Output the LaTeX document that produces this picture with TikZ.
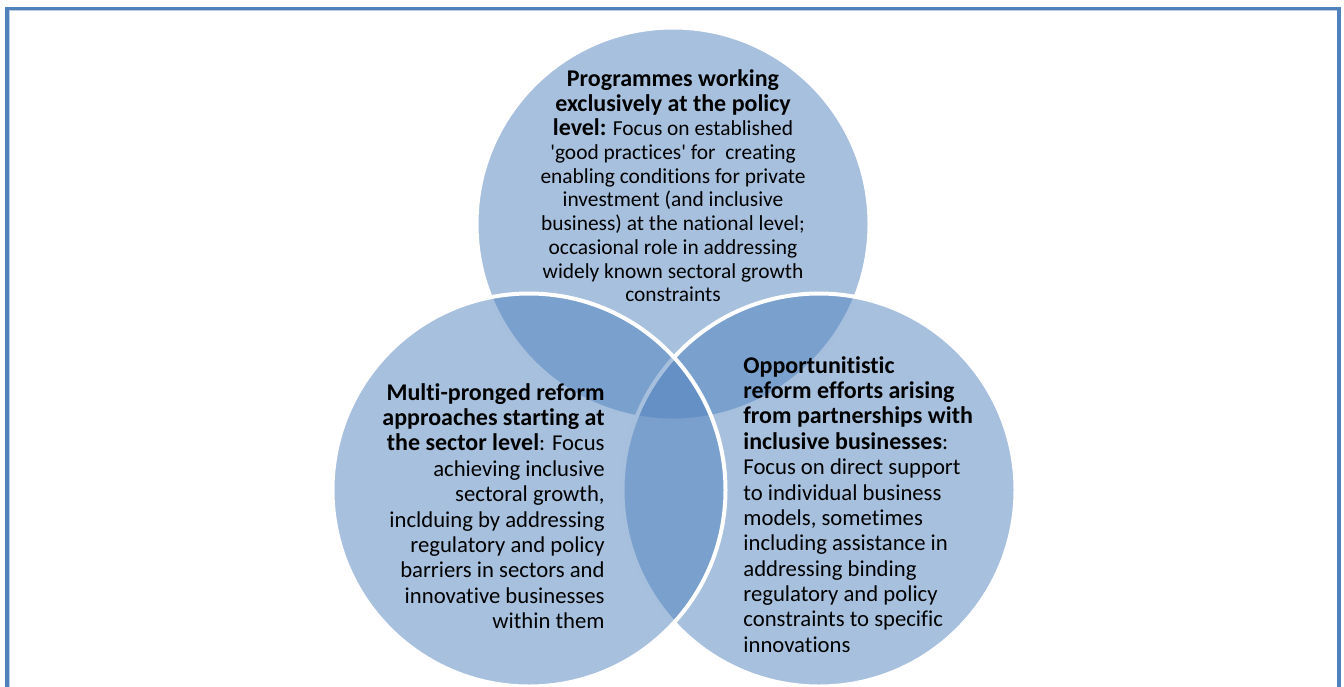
\documentclass[tikz,border=0pt]{standalone}
\usepackage{fontspec}
\setmainfont{Carlito}[Ligatures={NoCommon}]
\definecolor{vblue}{RGB}{79,129,189}
\definecolor{framelight}{RGB}{185,205,229}
\newcommand{\bt}[1]{{\fontsize{12pt}{12.4pt}\selectfont\bfseries #1}}
\newcommand{\sq}{\textquotesingle}
\begin{document}
\begin{tikzpicture}[x=0.5pt,y=-0.5pt,
  venn/.style={circle,minimum size=196.5pt,inner sep=0,fill=vblue,fill opacity=0.5,draw=white,draw opacity=1,line width=2pt},
  txt/.style={inner sep=0,text opacity=1},
  toptxt/.style={txt,font=\fontsize{10.7pt}{11.85pt}\selectfont},
  sidetxt/.style={txt,font=\fontsize{11.35pt}{12.68pt}\selectfont}]
\useasboundingbox (0,0) rectangle (1344,686);
% frame
\draw[vblue,line width=2pt] (7,700) -- (7,9) -- (1339,9) -- (1339,700);
\draw[framelight,line width=0.6pt] (9.8,700) -- (9.8,10.6) -- (1336.5,10.6);
% circles
\node[venn] (top) at (673,224) {};
\node[venn] (right) at (819,490) {};
\node[venn] (left) at (529,490) {};
% texts
\node[toptxt,align=center,anchor=north] (ttop) at (673,69) {%
\bt{Programmes working}\\[0.6pt]
\bt{exclusively at the policy}\\[0.5pt]
\bt{level:} Focus on established\\
\sq good practices\sq{} for\ \ creating\\
enabling conditions for private\\
investment (and inclusive\\
business) at the national level;\\
occasional role in addressing\\
widely known sectoral growth\\
constraints};
\node[sidetxt,align=right,anchor=north east] (tleft) at (605,383) {%
\bt{Multi-pronged reform}\\
\bt{approaches starting at}\\
\bt{the sector level}: Focus\\
achieving inclusive\\
sectoral growth,\\
inclduing by addressing\\
regulatory and policy\\
barriers in sectors and\\
innovative businesses\\
within them};
\node[sidetxt,align=left,anchor=north west] (tright) at (743,356) {%
\bt{Opportunitistic}\\
\bt{reform efforts arising}\\
\bt{from partnerships with}\\
\bt{inclusive businesses}:\\
Focus on direct support\\
to individual business\\
models, sometimes\\
including assistance in\\
addressing binding\\
regulatory and policy\\
constraints to specific\\
innovations};
\end{tikzpicture}
\end{document}
